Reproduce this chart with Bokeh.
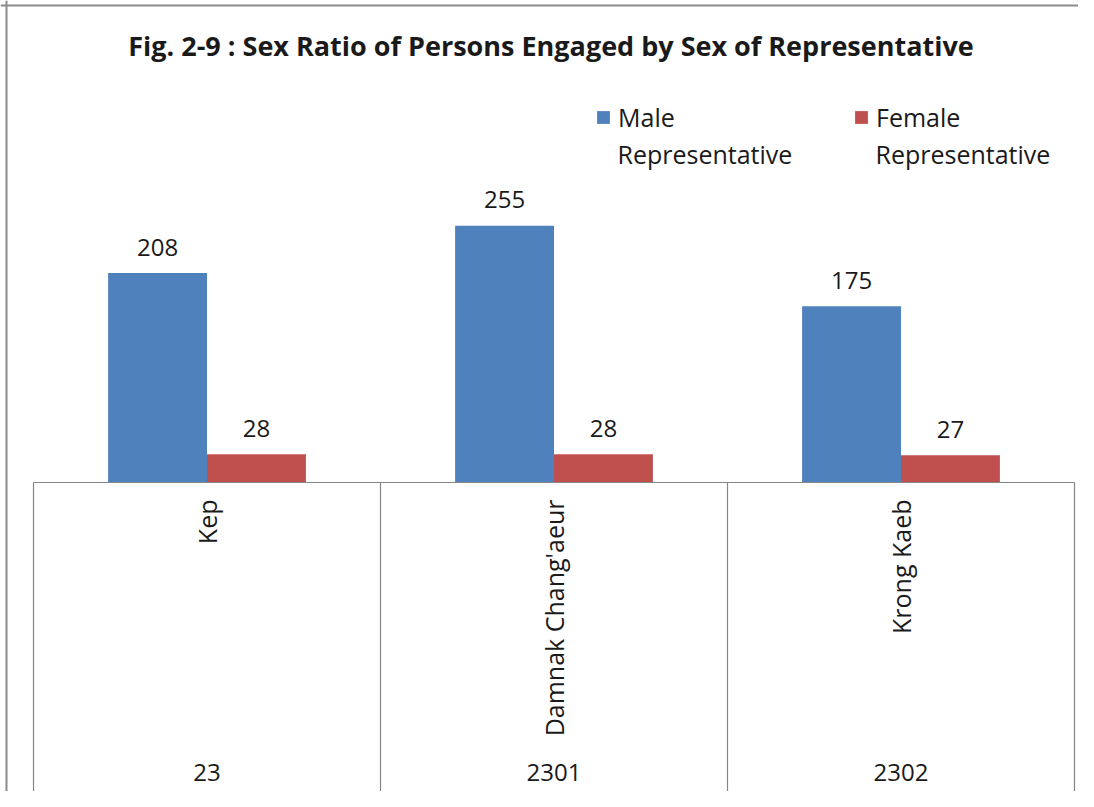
from bokeh.plotting import figure
from bokeh.models import Range1d, ColumnDataSource, Label, Span, Legend, LegendItem
from bokeh.core.properties import value
from bokeh.embed import file_html
from bokeh.resources import INLINE

# ---- data ----
title_text = "Fig. 2-9 : Sex Ratio of Persons Engaged by Sex of  Representative"
codes = ["23", "2301", "2302"]
names = ["Kep", "Damnak Chang'aeur", "Krong Kaeb"]
male = [208, 255, 175]
female = [28, 28, 27]
series_first = ["Male", "Female"]
series_second = ["Representative", "Representative"]

BLUE = "#4F81BD"
RED = "#C0504D"
GRID = "#868686"
TXT = "#1a1a1a"
FONT = "Open Sans"
FS = "25px"

# ---- layout (pixels) ----
W, H = 1078, 791
CAT_PX = 347.0      # pixels per category
LEFT_PX = 33        # left edge of first category
BASE_PX = 482       # baseline y (from top)
KY = 1.007          # pixels per unit

x_start = -0.5 - LEFT_PX / CAT_PX
x_end = x_start + W / CAT_PX
y_end = BASE_PX / KY
y_start = -(H - BASE_PX) / KY


def dx(px):
    return x_start + px / CAT_PX


def dy(py):
    return (BASE_PX - py) / KY


p = figure(width=W, height=H, output_backend="svg", toolbar_location=None,
           x_range=Range1d(x_start, x_end), y_range=Range1d(y_start, y_end),
           min_border=0)
p.xaxis.visible = False
p.yaxis.visible = False
p.xgrid.visible = False
p.ygrid.visible = False
p.outline_line_color = None
p.background_fill_color = "white"
p.border_fill_color = "white"

idx = list(range(len(names)))
BW = 0.285
src = ColumnDataSource(dict(
    xm=[i - BW / 2 for i in idx], xf=[i + BW / 2 for i in idx],
    male=male, female=female,
    mlab=[str(v) for v in male], flab=[str(v) for v in female],
    xc=idx, names=names, codes=codes, zero=[0] * len(idx),
))

rm = p.vbar(x="xm", top="male", width=BW, bottom=0, source=src,
            fill_color=BLUE, line_color=None)
rf = p.vbar(x="xf", top="female", width=BW, bottom=0, source=src,
            fill_color=RED, line_color=None)

# value labels
for xcol, ycol, tcol in (("xm", "male", "mlab"), ("xf", "female", "flab")):
    p.text(x=xcol, y=ycol, text=tcol, source=src, text_align="center",
           text_baseline="middle", y_offset=-26, text_font=value(FONT),
           text_font_size="24px", text_color=TXT)

# category axis box
edges = [i - 0.5 for i in idx] + [idx[-1] + 0.5]
p.segment(x0=edges[0], y0=0, x1=edges[-1], y1=0, line_color=GRID, line_width=1.2)
p.segment(x0=edges, y0=[0] * len(edges), x1=edges, y1=[y_start] * len(edges),
          line_color=GRID, line_width=1.2)

# rotated names
p.text(x="xc", y="zero", text="names", source=src, angle=1.5708,
       text_align="right", text_baseline="middle", y_offset=17,
       text_font=value(FONT), text_font_size=FS, text_color=TXT)
# codes
p.text(x="xc", y="zero", text="codes", source=src, text_align="center",
       text_baseline="middle", y_offset=290,
       text_font=value(FONT), text_font_size="24px", text_color=TXT)

# border (left and top; right/bottom cropped in reference)
p.add_layout(Span(location=dx(6), dimension="height", line_color="#8c8c8c", line_width=2))
p.add_layout(Span(location=dy(5), dimension="width", line_color="#8c8c8c", line_width=2))

# title
p.add_layout(Label(x=dx(554), y=dy(45), text=title_text, text_align="center",
                   text_baseline="middle", text_font=FONT, text_font_style="bold",
                   text_font_size="27px", text_color=TXT))

# legend: one single-item legend per series, second line as labels
for rend, first, second, gx in ((rm, series_first[0], series_second[0], 595),
                                (rf, series_first[1], series_second[1], 853)):
    lg = Legend(items=[LegendItem(label=first, renderers=[rend])],
                location=(gx, H - 134),
                label_text_font=FONT, label_text_font_size=FS,
                label_text_color=TXT, glyph_width=16, glyph_height=16,
                label_standoff=7, padding=0, margin=0, label_height=30,
                border_line_color=None, background_fill_alpha=0)
    p.add_layout(lg)
    p.add_layout(Label(x=dx(gx + 22), y=dy(153), text=second,
                       text_align="left", text_baseline="alphabetic",
                       text_font=FONT, text_font_size=FS, text_color=TXT))

open("out.html", "w").write(file_html(p, INLINE))
